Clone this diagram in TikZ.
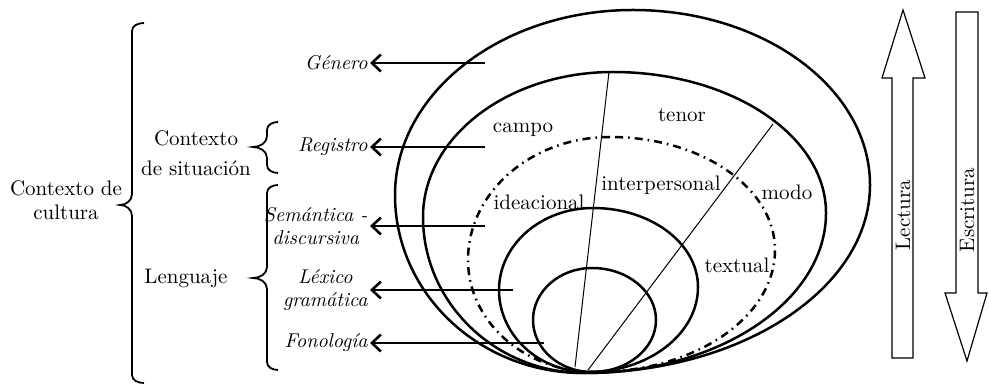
\documentclass[tikz,border=0pt]{standalone}
\usepackage{fontspec}
\usepackage{tikz}
\usetikzlibrary{arrows.meta}

% egg-shaped ring through top, left, bottom and right points
\newcommand{\eggpath}[8]{(#1,#2) .. controls ({#1-0.552*(#1-#3)},#2) and (#3,{#4+0.552*(#2-#4)}) .. (#3,#4)
  .. controls (#3,{#4-0.552*(#4-#6)}) and ({#5-0.552*(#5-#3)},#6) .. (#5,#6)
  .. controls ({#5+0.552*(#7-#5)},#6) and (#7,{#8-0.552*(#8-#6)}) .. (#7,#8)
  .. controls (#7,{#8+0.552*(#2-#8)}) and ({#1+0.552*(#7-#1)},#2) .. (#1,#2) -- cycle}
% left brace: serif x, stem x, tip x, top y, tip y, bottom y
\newcommand{\bracepath}[6]{(#1,#4) to[out=180,in=90] (#2,{#4-8}) -- (#2,{#5+11}) to[out=-90,in=0] (#3,#5)
  to[out=0,in=90] (#2,{#5-11}) -- (#2,{#6+8}) to[out=-90,in=180] (#1,#6)}

\begin{document}
\begin{tikzpicture}[x=0.5pt,y=0.5pt,>={Straight Barb[length=4.5pt,width=8.5pt]},
    every node/.style={font=\fontsize{10.5}{12}\selectfont},
    ring/.style={line width=1.25pt,line join=round},
    dashring/.style={ring,dash pattern=on 4pt off 2.5pt on 0.8pt off 2.5pt},
    radius line/.style={line width=0.5pt},
    pointer/.style={->,line width=1.3pt},
    bracket/.style={line width=0.9pt},
    stratum/.style={font=\itshape\fontsize{10}{11.5}\selectfont,anchor=east,align=center,inner sep=1pt},
    flow/.style={line width=0.6pt}]
    \useasboundingbox (0,0) rectangle (989,385);

    % rings
    \draw[ring] \eggpath{633}{375}{395}{190}{583}{12}{870}{200};
    \draw[ring] \eggpath{613}{313}{423}{168}{585}{12}{826}{172};
    \draw[dashring] \eggpath{610}{248}{468}{125}{595}{13}{775}{135};
    \draw[ring] \eggpath{593}{177}{499}{95}{588}{13}{698}{98};
    \draw[ring] \eggpath{592}{117}{533}{65}{592}{13}{656}{65};

    % radii
    \coordinate (a1) at (609,313);
    \coordinate (a2) at (575,18);
    \coordinate (b1) at (773,261);
    \coordinate (b2) at (588,15);
    \draw[radius line] (a1) -- (a2);
    \draw[radius line] (b1) -- (b2);

    % metafunctions and register variables
    \node (campo) at (523,255) {campo};
    \node (tenor) at (682,270) {tenor};
    \node (interpersonal) at (661,200) {interpersonal};
    \node (ideacional) at (539,183) {ideacional};
    \node (modo) at (787,193) {modo};
    \node (textual) at (737,120) {textual};

    % strata
    \node[stratum] (genero) at (370,322) {Género};
    \node[stratum] (registro) at (370,238) {Registro};
    \node[stratum] (semantica) at (370,159) {Semántica -\\discursiva};
    \node[stratum] (lexico) at (370,95) {Léxico\\gramática};
    \node[stratum] (fonologia) at (370,42) {Fonología};
    \coordinate (g0) at (485,322);
    \coordinate (r0) at (485,238);
    \coordinate (s0) at (485,159);
    \coordinate (l0) at (513,95);
    \coordinate (f0) at (544,42);
    \draw[pointer] (g0) -- (genero);
    \draw[pointer] (r0) -- (registro);
    \draw[pointer] (s0) -- (semantica);
    \draw[pointer] (l0) -- (lexico);
    \draw[pointer] (f0) -- (fonologia);

    % braces
    \draw[bracket] \bracepath{144}{132}{120}{362}{180}{2};
    \draw[bracket] \bracepath{278}{267}{253}{263}{238}{212};
    \draw[bracket] \bracepath{278}{267}{253}{200}{107}{15};
    \node[align=center] (cultura) at (66,185) {Contexto de\\cultura};
    \node[align=center,font=\fontsize{10.5}{15}\selectfont] (situacion) at (196,232) {Contexto\\de situación};
    \node (lenguaje) at (186,107) {Lenguaje};

    % reading and writing
    \draw[flow] (892,27) -- (892,307) -- (882,307) -- (903,375) -- (925,307) -- (913,307) -- (913,27) -- cycle;
    \draw[flow] (956,373) -- (978,373) -- (978,92) -- (987,92) -- (967,24) -- (945,92) -- (956,92) -- cycle;
    \node[rotate=90] (lectura) at (903,170) {Lectura};
    \node[rotate=90] (escritura) at (967,175) {Escritura};
\end{tikzpicture}
\end{document}
